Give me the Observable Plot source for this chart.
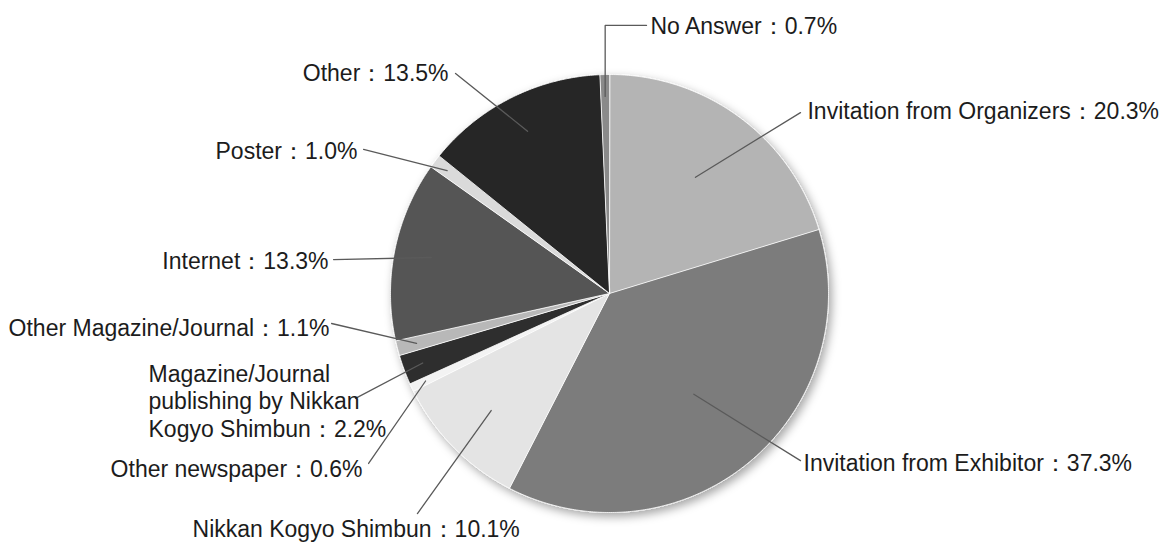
<!DOCTYPE html>
<html><head><meta charset="utf-8">
<script src="https://cdn.jsdelivr.net/npm/d3@7"></script>
<script src="https://cdn.jsdelivr.net/npm/@observablehq/plot@0.6"></script>
<style>body{margin:0;background:#fff;}</style>
</head><body><div id="chart"></div>
<script>
// ---- data (clockwise from 12 o'clock) ----
const categories = [
  "Invitation from Organizers",
  "Invitation from Exhibitor",
  "Nikkan Kogyo Shimbun",
  "Other newspaper",
  "Magazine/Journal\npublishing by Nikkan\nKogyo Shimbun",
  "Other Magazine/Journal",
  "Internet",
  "Poster",
  "Other",
  "No Answer"
];
const shares = [20.3, 37.3, 10.1, 0.6, 2.2, 1.1, 13.3, 1.0, 13.5, 0.7];
const sliceColors = ["#b4b4b4", "#7b7b7b", "#e4e4e4", "#f3f3f3", "#2e2e2e", "#b8b8b8", "#555555", "#dadada", "#262626", "#8a8a8a"];

// ---- label layout (units of pie radius, centre = 0,0) ----
const leaderDepth = [0.66, 0.6, 0.76, 0.93, 0.91, 0.91, 0.83, 0.93, 0.83, 0.9];
const leaderEnd = [[0.872,0.826],[0.872,-0.763],[-0.877,-1.005],[-1.100,-0.776],[-1.160,-0.479],[-1.269,-0.137],[-1.260,0.155],[-1.123,0.658],[-0.703,1.005],[0.169,1.224]];
const leaderElbow = [false,false,false,false,false,false,false,false,false,true];
const labelPos = [[0.904,0.836],[0.886,-0.772],[-1.904,-1.073],[-1.128,-0.799],[-2.105,-0.489],[-2.744,-0.155],[-1.283,0.151],[-1.151,0.653],[-0.735,1.009],[0.187,1.224]];
const labelAnchor = ["start","start","start","end","start","start","end","end","end","start"];

// ---- build geometry from the data ----
const total = d3.sum(shares);
let acc = 0;
const slices = [], leaders = [], labels = [];
shares.forEach((v, i) => {
  const a0 = acc / total * 2 * Math.PI;
  acc += v;
  const a1 = acc / total * 2 * Math.PI;
  const key = categories[i];
  slices.push({key, x: 0, y: 0, color: sliceColors[i]});
  const n = Math.max(2, Math.ceil((a1 - a0) / (Math.PI / 360)));
  for (let k = 0; k <= n; k++) {
    const a = a0 + (a1 - a0) * k / n;
    slices.push({key, x: Math.sin(a), y: Math.cos(a), color: sliceColors[i]});
  }
  const am = (a0 + a1) / 2, r = leaderDepth[i];
  const ix = r * Math.sin(am), iy = r * Math.cos(am);
  leaders.push({key, x: ix, y: iy});
  if (leaderElbow[i]) leaders.push({key, x: ix, y: leaderEnd[i][1]});
  leaders.push({key, x: leaderEnd[i][0], y: leaderEnd[i][1]});
  labels.push({text: `${key}：${v.toFixed(1)}%`, x: labelPos[i][0], y: labelPos[i][1], anchor: labelAnchor[i]});
});

const W = 1165, H = 547, R = 219, CX = 609, CY = 293;
const chart = Plot.plot({
  width: W, height: H, margin: 0,
  x: {domain: [-CX / R, (W - CX) / R], axis: null},
  y: {domain: [(CY - H) / R, CY / R], axis: null},
  color: {type: "identity"},
  style: {fontFamily: "'Liberation Sans', Arial, sans-serif", fontSize: "23px", background: "#fff"},
  marks: [
    Plot.line(slices, {x: "x", y: "y", z: "key", fill: "color", stroke: "#ffffff", strokeWidth: 0.8, curve: "linear-closed"}),
    Plot.line(leaders, {x: "x", y: "y", z: "key", stroke: "#5a5a5a", strokeWidth: 1.3}),
    Plot.text(labels.filter(d => d.anchor === "start"), {x: "x", y: "y", text: "text", textAnchor: "start", lineAnchor: "middle", lineHeight: 1.2, fill: "#1c1c1c", fontSize: 23}),
    Plot.text(labels.filter(d => d.anchor === "end"), {x: "x", y: "y", text: "text", textAnchor: "end", lineAnchor: "middle", lineHeight: 1.2, fill: "#1c1c1c", fontSize: 23})
  ]
});

// soft drop shadow on the pie
const ns = "http://www.w3.org/2000/svg";
const defs = document.createElementNS(ns, "defs");
defs.innerHTML = '<filter id="pieShadow" x="-20%" y="-20%" width="140%" height="140%"><feDropShadow dx="3" dy="4" stdDeviation="5" flood-color="#000" flood-opacity="0.35"/></filter>';
chart.insertBefore(defs, chart.firstChild);
const pieG = chart.querySelector('g[aria-label="line"]');
if (pieG) pieG.setAttribute("filter", "url(#pieShadow)");
document.getElementById("chart").appendChild(chart);
</script>
</body></html>
